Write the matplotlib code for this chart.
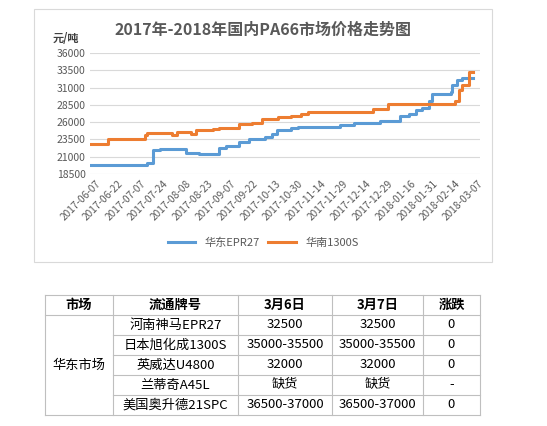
import matplotlib
matplotlib.use("Agg")
import matplotlib.pyplot as plt
from matplotlib.patches import Rectangle

plt.rcParams['font.family'] = ['Noto Sans CJK SC', 'DejaVu Sans']

tick_labels = ["2017-06-07","2017-06-22","2017-07-07","2017-07-24","2017-08-08","2017-08-23",
               "2017-09-07","2017-09-22","2017-10-13","2017-10-30","2017-11-14","2017-11-29",
               "2017-12-14","2017-12-29","2018-01-16","2018-01-31","2018-02-14","2018-03-07"]
y_ticks = [18500, 21000, 23500, 26000, 28500, 31000, 33500, 36000]
y_labels = ["18500","21000","23500","26000","28500","31000","33500","36000"]

east_t = [0,2.48,2.74,3.07,4.2,4.79,5.69,5.99,6.57,7.01,7.74,8.03,8.25,8.91,9.2,11.09,11.68,
          12.85,13.72,14.16,14.45,14.74,15.04,15.18,15.99,16.06,16.28,16.5,17.0]
east_v = [19800,20100,21900,22100,21600,21400,22300,22600,23100,23500,23900,24300,24800,25100,
          25300,25600,25900,26100,26900,27200,27800,28100,29000,30000,30400,31300,32100,32400,32400]
south_t = [0,0.73,1.61,2.41,2.48,3.58,3.8,4.45,4.67,5.4,5.69,6.57,7.15,7.59,8.32,8.91,9.34,9.64,
           12.55,13.21,16.2,16.35,16.5,16.72,16.79,17.0]
south_v = [22900,23500,23600,24100,24400,24100,24600,24300,24800,25000,25100,25700,25900,26500,
           26700,26900,27200,27400,27900,28600,29000,30600,31300,31300,33300,33300]

headers = ["市场", "流通牌号", "3月6日", "3月7日", "涨跌"]
market = "华东市场"
grades = ["河南神马EPR27", "日本旭化成1300S", "英威达U4800", "兰蒂奇A45L", "美国奥升德21SPC"]
mar6 = ["32500", "35000-35500", "32000", "缺货", "36500-37000"]
mar7 = ["32500", "35000-35500", "32000", "缺货", "36500-37000"]
change = ["0", "0", "0", "-", "0"]

W, H = 547, 426
fig = plt.figure(figsize=(W/100, H/100), dpi=100)
fig.patches.append(Rectangle((34/W, 1-262/H), 458/W, 253/H, transform=fig.transFigure,
                             fill=False, ec="#d9d9d9", lw=0.8))

ax = fig.add_axes([90/W, 1-174/H, 390/W, 121/H])
ax.step(east_t, east_v, where="post", color="#5b9bd5", lw=2.2, label="华东EPR27")
ax.step(south_t, south_v, where="post", color="#ed7d31", lw=2.2, label="华南1300S")
ax.set_ylim(18500, 36000)
ax.set_xlim(-0.05, 17.3)
ax.set_yticks(y_ticks)
ax.set_yticklabels(y_labels, fontsize=7.5, color="#595959")
ax.set_xticks([k + 0.2 for k in range(len(tick_labels))])
ax.set_xticklabels(tick_labels, rotation=45, ha="right", rotation_mode="anchor",
                   fontsize=7.3, color="#595959")
ax.tick_params(length=0, pad=3)
ax.grid(axis="y", color="#d9d9d9", lw=0.8)
for s in ax.spines.values():
    s.set_visible(False)
ax.set_axisbelow(True)
fig.text(263/W, 1-30/H, "2017年-2018年国内PA66市场价格走势图", ha="center", va="center",
         fontsize=11.5, fontweight="bold", color="#595959")
fig.text(53/W, 1-39/H, "元/吨", ha="left", va="center", fontsize=8, fontweight="bold", color="#404040")
fig.legend(loc="center", bbox_to_anchor=(263/W, 1-243/H), ncol=2, frameon=False,
           fontsize=8, handlelength=2.5, labelcolor="#595959", columnspacing=0.8)

xs = [45, 113, 238, 332, 423, 480]
ys = [295, 315, 335, 355, 375, 395, 415]
lc = "#bfbfbf"
def hl(y, x0, x1):
    fig.add_artist(plt.Line2D([x0/W, x1/W], [1-y/H, 1-y/H], color=lc, lw=0.8))
def vl(x, y0, y1):
    fig.add_artist(plt.Line2D([x/W, x/W], [1-y0/H, 1-y1/H], color=lc, lw=0.8))
hl(ys[0], xs[0], xs[-1]); hl(ys[1], xs[0], xs[-1]); hl(ys[-1], xs[0], xs[-1])
for y in ys[2:-1]:
    hl(y, xs[1], xs[-1])
for x in xs:
    vl(x, ys[0], ys[-1])
for i, h in enumerate(headers):
    fig.text((xs[i]+xs[i+1])/2/W, 1-(ys[0]+ys[1])/2/H, h, ha="center", va="center",
             fontsize=9.5, fontweight="bold", color="#000000")
fig.text((xs[0]+xs[1])/2/W, 1-(ys[1]+ys[-1])/2/H, market, ha="center", va="center", fontsize=9.5)
for r in range(len(grades)):
    yc = 1-(ys[r+1]+ys[r+2])/2/H
    for c, val in enumerate([grades[r], mar6[r], mar7[r], change[r]]):
        fig.text((xs[c+1]+xs[c+2])/2/W, yc, val, ha="center", va="center", fontsize=9.5)

fig.savefig("out.png", dpi=100, facecolor="white")
